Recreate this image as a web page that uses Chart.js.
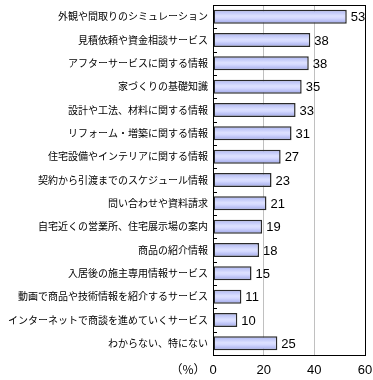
<!DOCTYPE html>
<html>
<head>
<meta charset="utf-8">
<script src="https://cdn.jsdelivr.net/npm/chart.js@4"></script>
<style>
  html, body { margin: 0; padding: 0; background: #fff; }
  #wrap { width: 373px; height: 380px; position: relative; }
</style>
</head>
<body>
<div id="wrap"><canvas id="infoChart"></canvas></div>
<script>
// categories (top to bottom)
const categories = [
  '外観や間取りのシミュレーション',
  '見積依頼や資金相談サービス',
  'アフターサービスに関する情報',
  '家づくりの基礎知識',
  '設計や工法、材料に関する情報',
  'リフォーム・増築に関する情報',
  '住宅設備やインテリアに関する情報',
  '契約から引渡までのスケジュール情報',
  '問い合わせや資料請求',
  '自宅近くの営業所、住宅展示場の案内',
  '商品の紹介情報',
  '入居後の施主専用情報サービス',
  '動画で商品や技術情報を紹介するサービス',
  'インターネットで商談を進めていくサービス',
  'わからない、特にない'
];
// percent values (bar lengths, labels are rounded)
const values = [52.8, 38.4, 37.8, 35.0, 32.6, 31.0, 26.7, 23.1, 21.1, 19.4, 18.2, 15.2, 11.2, 9.6, 25.4];
const xTicks = [0, 20, 40, 60];
const unitLabel = '（%）';

const jpFont = '"Noto Sans CJK JP", sans-serif';
const numFont = '"Liberation Sans", Arial, sans-serif';
const barShare = 0.6;

// vertical gradient for each bar, built from the y scale
function barGradient(c) {
  const chart = c.chart;
  const ys = chart.scales.y;
  if (!ys || !chart.chartArea || c.dataIndex === undefined) return '#c8ccfc';
  const center = ys.getPixelForValue(c.dataIndex);
  const half = (ys.height / categories.length) * barShare / 2;
  const g = chart.ctx.createLinearGradient(0, center - half, 0, center + half);
  g.addColorStop(0, '#aab2f2');
  g.addColorStop(0.45, '#dde1ff');
  g.addColorStop(0.6, '#d5d9ff');
  g.addColorStop(1, '#9ca4e8');
  return g;
}

// frame, inner ticks, value labels
const decorPlugin = {
  id: 'decor',
  afterDatasetsDraw(chart) {
    const ctx = chart.ctx;
    const area = chart.chartArea;
    const yScale = chart.scales.y;
    ctx.save();
    // frame
    ctx.strokeStyle = '#000';
    ctx.lineWidth = 1;
    ctx.strokeRect(Math.round(area.left) + 0.5, Math.round(area.top) + 0.5,
      Math.round(area.right - area.left), Math.round(area.bottom - area.top));
    // small tick marks between categories, inside the frame
    for (let i = 1; i < categories.length; i++) {
      const y = Math.round((yScale.getPixelForValue(i - 1) + yScale.getPixelForValue(i)) / 2) + 0.5;
      ctx.beginPath();
      ctx.moveTo(area.left, y);
      ctx.lineTo(area.left + 4, y);
      ctx.stroke();
    }
    // value labels
    ctx.fillStyle = '#000';
    ctx.font = '13px ' + numFont;
    ctx.textAlign = 'left';
    ctx.textBaseline = 'middle';
    chart.getDatasetMeta(0).data.forEach((bar, i) => {
      ctx.fillText(String(Math.round(values[i])), bar.x + 4, bar.y + 1);
    });
    // unit label next to x ticks
    ctx.font = '12px ' + jpFont;
    ctx.textAlign = 'center';
    ctx.fillText(unitLabel, 188, chart.scales.x.bottom - 11);
    ctx.restore();
  }
};

function createChart(chartId) {
  const ctx = document.getElementById(chartId).getContext('2d');
  return new Chart(ctx, {
    type: 'bar',
    data: {
      labels: categories,
      datasets: [{
        data: values,
        backgroundColor: barGradient,
        borderColor: '#2a2a2a',
        borderWidth: 1.5,
        borderSkipped: false,
        categoryPercentage: 1,
        barPercentage: barShare
      }]
    },
    options: {
      indexAxis: 'y',
      responsive: true,
      maintainAspectRatio: false,
      animation: false,
      layout: { padding: { top: 5, right: 8, left: 0, bottom: 0 } },
      plugins: {
        legend: { display: false },
        tooltip: { enabled: false }
      },
      scales: {
        x: {
          min: xTicks[0],
          max: xTicks[xTicks.length - 1],
          afterBuildTicks: s => { s.ticks = xTicks.map(v => ({ value: v })); },
          afterFit: s => { s.height = 25; s.paddingLeft = 0; s.paddingRight = 0; },
          grid: { color: '#c0c0c0', drawTicks: false, lineWidth: 1 },
          border: { display: false },
          ticks: {
            color: '#000',
            padding: 8,
            font: { family: numFont, size: 13 }
          }
        },
        y: {
          afterFit: s => { s.width = 213; s.paddingTop = 0; s.paddingBottom = 0; },
          grid: { display: false, drawTicks: false },
          border: { display: false },
          ticks: {
            color: '#000',
            padding: 5,
            autoSkip: false,
            font: { family: jpFont, size: 10 }
          }
        }
      }
    },
    plugins: [decorPlugin]
  });
}

createChart('infoChart');
</script>
</body>
</html>
